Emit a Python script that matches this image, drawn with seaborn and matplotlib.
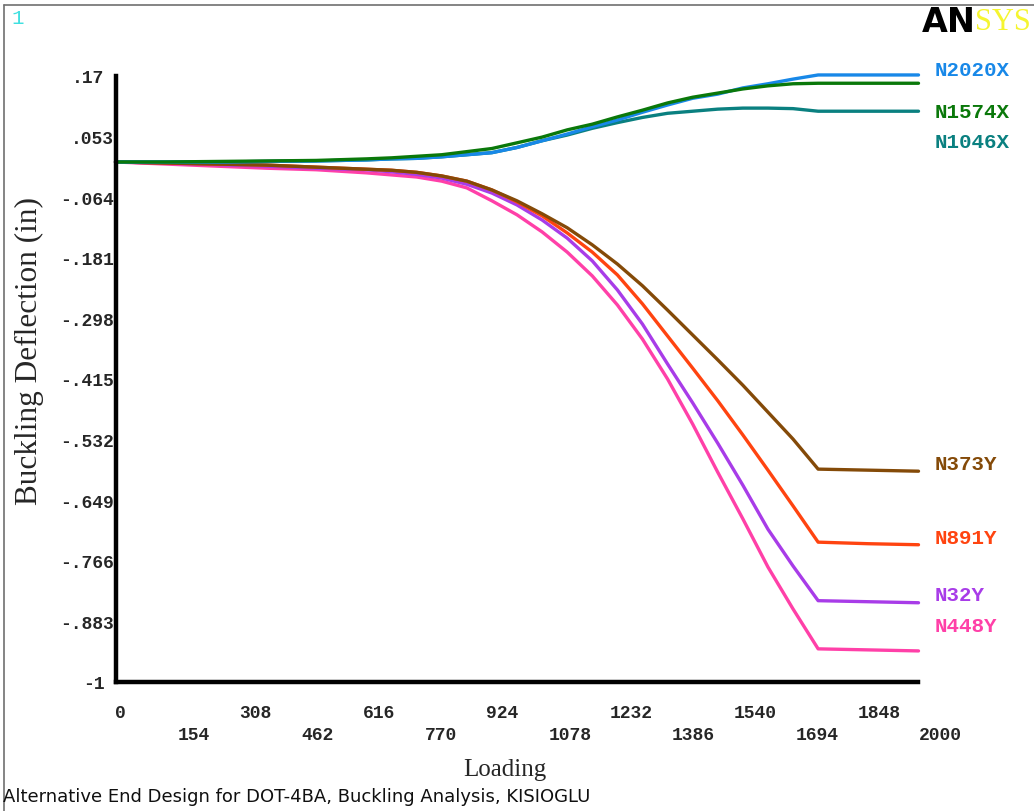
import matplotlib
matplotlib.use("Agg")
import matplotlib.pyplot as plt
import seaborn as sns
import pandas as pd
from matplotlib.lines import Line2D

# ---------------- data ----------------
loading = [0, 125, 250, 375, 500, 625, 687.5, 750, 812.5, 875, 937.5, 1000, 1062.5,
           1125, 1187.5, 1250, 1312.5, 1375, 1437.5, 1500, 1562.5, 1625, 1687.5,
           1750, 1875, 2000]

n2020x = [0.004, 0.004, 0.004, 0.005, 0.006, 0.008, 0.010, 0.011, 0.014, 0.018, 0.022,
          0.032, 0.045, 0.058, 0.072, 0.085, 0.100, 0.114, 0.127, 0.135, 0.147, 0.155,
          0.164, 0.172, 0.172, 0.172]
n1574x = [0.004, 0.004, 0.005, 0.006, 0.007, 0.010, 0.012, 0.015, 0.018, 0.024, 0.030,
          0.041, 0.052, 0.066, 0.077, 0.091, 0.104, 0.118, 0.129, 0.137, 0.145, 0.151,
          0.155, 0.156, 0.156, 0.156]
n1046x = [0.004, 0.004, 0.004, 0.005, 0.006, 0.008, 0.010, 0.011, 0.014, 0.018, 0.022,
          0.032, 0.045, 0.056, 0.069, 0.080, 0.090, 0.098, 0.102, 0.106, 0.108, 0.108,
          0.107, 0.102, 0.102, 0.102]
n373y = [0.004, 0.002, 0.000, -0.002, -0.006, -0.010, -0.012, -0.016, -0.023, -0.033,
         -0.050, -0.071, -0.096, -0.123, -0.156, -0.193, -0.235, -0.282, -0.330, -0.378,
         -0.427, -0.479, -0.531, -0.589, -0.591, -0.593]
n891y = [0.004, 0.002, 0.000, -0.002, -0.006, -0.010, -0.012, -0.016, -0.023, -0.033,
         -0.050, -0.073, -0.100, -0.133, -0.170, -0.214, -0.270, -0.332, -0.394, -0.457,
         -0.523, -0.591, -0.660, -0.730, -0.733, -0.735]
n32y = [0.004, 0.002, -0.001, -0.004, -0.008, -0.011, -0.015, -0.020, -0.027, -0.039,
        -0.056, -0.079, -0.108, -0.143, -0.187, -0.243, -0.309, -0.386, -0.461, -0.539,
        -0.620, -0.705, -0.776, -0.843, -0.845, -0.847]
n448y = [0.004, 0.000, -0.004, -0.008, -0.011, -0.017, -0.021, -0.025, -0.033, -0.046,
         -0.071, -0.098, -0.131, -0.170, -0.216, -0.272, -0.338, -0.415, -0.502, -0.595,
         -0.685, -0.778, -0.859, -0.936, -0.938, -0.940]

series_names = ["N448Y", "N32Y", "N891Y", "N373Y", "N1046X", "N2020X", "N1574X"]
series_values = [n448y, n32y, n891y, n373y, n1046x, n2020x, n1574x]
series_colors = ["#ff40a8", "#a83ce8", "#ff4410", "#844a08", "#0a8080", "#1888e8", "#0a780a"]

xtick_values = [0, 154, 308, 462, 616, 770, 924, 1078, 1232, 1386, 1540, 1694, 1848, 2000]
xtick_labels = ["0", "154", "308", "462", "616", "770", "924", "1078", "1232", "1386",
                "1540", "1694", "1848", "2000"]
ytick_values = [0.17, 0.053, -0.064, -0.181, -0.298, -0.415, -0.532, -0.649, -0.766, -0.883, -1.0]
ytick_labels = [".17", ".053", "-.064", "-.181", "-.298", "-.415", "-.532", "-.649",
                "-.766", "-.883", "-1"]

# end labels: (name, y pixel of label centre)
end_label_names = ["N2020X", "N1574X", "N1046X", "N373Y", "N891Y", "N32Y", "N448Y"]
end_label_ypix = [70, 112, 143, 465, 538, 596, 627]

# ---------------- build frame ----------------
rows = []
for name, vals in zip(series_names, series_values):
    for x, v in zip(loading, vals):
        rows.append({"Loading": x, "Deflection": v, "Node": name})
df = pd.DataFrame(rows)
palette = dict(zip(series_names, series_colors))

sns.set_style("white")
plt.rcParams["font.family"] = ["DejaVu Sans"]

W, H = 1034, 812
fig = plt.figure(figsize=(W / 100, H / 100), dpi=100)
fig.patch.set_facecolor("white")

def fx(px):
    return px / W

def fy(py):
    return 1 - py / H

ax_left, ax_right, ax_top, ax_bottom = 115.5, 918.5, 77, 683
ax = fig.add_axes([fx(ax_left), fy(ax_bottom), (ax_right - ax_left) / W, (ax_bottom - ax_top) / H])

sns.lineplot(data=df, x="Loading", y="Deflection", hue="Node", hue_order=series_names,
             palette=palette, linewidth=2.4, legend=False, ax=ax, clip_on=False)

ax.set_xlim(0, 2000)
ax.set_ylim(-1.0, 0.17)
for s in ["top", "right"]:
    ax.spines[s].set_visible(False)
for s in ["left", "bottom"]:
    ax.spines[s].set_linewidth(3.2)
    ax.spines[s].set_color("black")
    ax.spines[s].set_capstyle("projecting")

mono = {"family": "Liberation Mono", "weight": "bold", "size": 13}

ax.set_xticks(xtick_values)
ax.set_xticklabels([lab if i % 2 == 0 else "\n" + lab for i, lab in enumerate(xtick_labels)],
                   fontdict=mono, ha="left", linespacing=1.35)
ax.tick_params(axis="x", length=11, width=1, color="#d8d8d8", pad=5, direction="out")

ax.set_yticks(ytick_values)
ax.set_yticklabels(ytick_labels, fontdict=mono)
ax.tick_params(axis="y", length=0, pad=1)
# the short labels (.17 and -1) sit a little further left in the reference
for lab in ax.get_yticklabels():
    if len(lab.get_text()) <= 3:
        lab.set_x(-0.012)

ax.set_xlabel("")
ax.set_ylabel("")

# axis titles
fig.text(fx(29), fy(351), "Buckling Deflection (in)", rotation=90, ha="center", va="center",
         family="Liberation Serif", size=22.5)
fig.text(fx(505), fy(770), "Loading", ha="center", va="center",
         family="Liberation Serif", size=18)

# end labels
for name, ypix in zip(end_label_names, end_label_ypix):
    fig.text(fx(935), fy(ypix), name, ha="left", va="center", color=palette[name],
             family="Liberation Mono", weight="bold", size=15)

# caption
fig.text(fx(3), fy(797), "Alternative End Design for DOT-4BA, Buckling Analysis, KISIOGLU",
         ha="left", va="center", family="DejaVu Sans", size=13, color="#101010")

# window number and logo
fig.text(fx(11), fy(18), "1", ha="left", va="center", color="#40e0e0",
         family="Liberation Mono", size=15)
fig.text(fx(922), fy(23), "AN", ha="left", va="center", color="black",
         family="DejaVu Sans", weight="bold", size=24)
fig.text(fx(975), fy(23), "SYS", ha="left", va="center", color="#f5f530",
         family="Liberation Serif", size=22)

# frame lines (top and left)
fig.add_artist(Line2D([fx(4), fx(1034)], [fy(6), fy(6)], color="#707070", linewidth=1.2))
fig.add_artist(Line2D([fx(4), fx(4)], [fy(6), fy(812)], color="#707070", linewidth=1.2))

fig.savefig("out.png", dpi=100, facecolor="white")
